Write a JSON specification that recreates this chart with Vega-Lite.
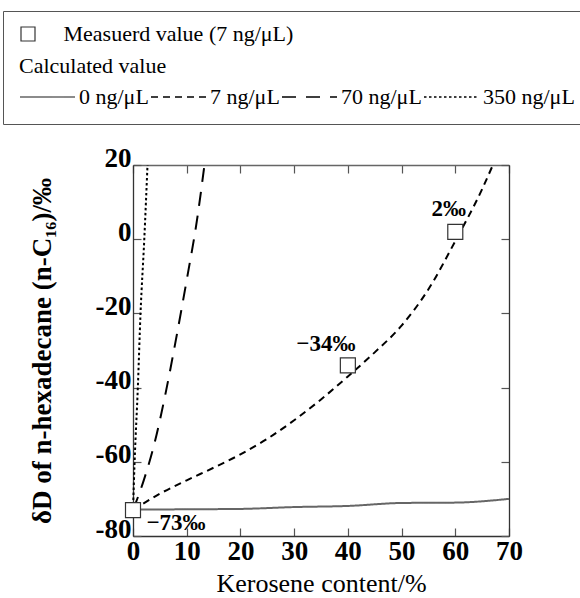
{
  "$schema": "https://vega.github.io/schema/vega-lite/v6.json",
  "width": 376,
  "height": 371,
  "padding": {"left": 2, "top": 10, "right": 0, "bottom": 0},
  "config": {
    "view": {"stroke": null},
    "font": "Liberation Serif",
    "axis": {
      "grid": false,
      "tickSize": -8,
      "tickColor": "#555",
      "tickWidth": 1.2,
      "domainColor": "#333",
      "domainWidth": 1.3,
      "labelFont": "Liberation Serif",
      "labelFontWeight": "bold",
      "labelFontSize": 27,
      "labelColor": "#000",
      "titleFont": "Liberation Serif",
      "titleColor": "#000"
    }
  },
  "datasets": {
    "curves": [
      {"series": "0 ng/μL", "kerosene": 0, "dD": -72.9},
      {"series": "0 ng/μL", "kerosene": 10, "dD": -72.8},
      {"series": "0 ng/μL", "kerosene": 20, "dD": -72.7},
      {"series": "0 ng/μL", "kerosene": 30, "dD": -72.2},
      {"series": "0 ng/μL", "kerosene": 40, "dD": -71.9},
      {"series": "0 ng/μL", "kerosene": 50, "dD": -71.1},
      {"series": "0 ng/μL", "kerosene": 60, "dD": -71.0},
      {"series": "0 ng/μL", "kerosene": 70, "dD": -70.0},
      {"series": "7 ng/μL", "kerosene": 0, "dD": -73},
      {"series": "7 ng/μL", "kerosene": 5, "dD": -68.6},
      {"series": "7 ng/μL", "kerosene": 10, "dD": -65},
      {"series": "7 ng/μL", "kerosene": 15, "dD": -61.6},
      {"series": "7 ng/μL", "kerosene": 20, "dD": -58},
      {"series": "7 ng/μL", "kerosene": 25, "dD": -53.8},
      {"series": "7 ng/μL", "kerosene": 30, "dD": -48.8},
      {"series": "7 ng/μL", "kerosene": 35, "dD": -43.2},
      {"series": "7 ng/μL", "kerosene": 40, "dD": -37},
      {"series": "7 ng/μL", "kerosene": 45, "dD": -30.5},
      {"series": "7 ng/μL", "kerosene": 50, "dD": -23.3},
      {"series": "7 ng/μL", "kerosene": 55, "dD": -13.5},
      {"series": "7 ng/μL", "kerosene": 60, "dD": -0.5},
      {"series": "7 ng/μL", "kerosene": 65, "dD": 13.5},
      {"series": "7 ng/μL", "kerosene": 67, "dD": 20},
      {"series": "70 ng/μL", "kerosene": 0, "dD": -73},
      {"series": "70 ng/μL", "kerosene": 2, "dD": -65},
      {"series": "70 ng/μL", "kerosene": 4, "dD": -55},
      {"series": "70 ng/μL", "kerosene": 6, "dD": -42},
      {"series": "70 ng/μL", "kerosene": 8, "dD": -27},
      {"series": "70 ng/μL", "kerosene": 10, "dD": -11},
      {"series": "70 ng/μL", "kerosene": 12, "dD": 6},
      {"series": "70 ng/μL", "kerosene": 13.3, "dD": 20},
      {"series": "350 ng/μL", "kerosene": 0, "dD": -73},
      {"series": "350 ng/μL", "kerosene": 0.3, "dD": -60},
      {"series": "350 ng/μL", "kerosene": 0.9, "dD": -40},
      {"series": "350 ng/μL", "kerosene": 1.4, "dD": -20},
      {"series": "350 ng/μL", "kerosene": 2.1, "dD": 0},
      {"series": "350 ng/μL", "kerosene": 2.7, "dD": 20}
    ],
    "measured": [
      {"kerosene": 0, "dD": -73},
      {"kerosene": 40, "dD": -34},
      {"kerosene": 60, "dD": 2}
    ],
    "labels": [
      {"kerosene": 8.0, "dD": -78.3, "text": "−73‰"},
      {"kerosene": 35.9, "dD": -30, "text": "−34‰"},
      {"kerosene": 58.8, "dD": 6.3, "text": "2‰"}
    ]
  },
  "layer": [
    {
      "data": {"name": "curves"},
      "mark": {"type": "line", "strokeWidth": 2, "interpolate": "monotone"},
      "encoding": {
        "x": {
          "field": "kerosene", "type": "quantitative",
          "scale": {"domain": [0, 70], "nice": false, "zero": false},
          "axis": {
            "orient": "bottom",
            "title": "Kerosene content/%",
            "titleFontSize": 26,
            "titleFontWeight": "normal",
            "titlePadding": 6,
            "labelPadding": 10,
            "labelFlush": false,
            "values": [0, 10, 20, 30, 40, 50, 60, 70]
          }
        },
        "y": {
          "field": "dD", "type": "quantitative",
          "scale": {"domain": [-80, 20], "nice": false, "zero": false},
          "axis": {
            "orient": "left",
            "title": "δD of n-hexadecane (n-C₁₆)/‰",
            "titleFontSize": 27,
            "titleFontWeight": "bold",
            "titlePadding": 39,
            "labelPadding": 10,
            "labelOffset": -7,
            "labelFlush": false,
            "values": [-80, -60, -40, -20, 0, 20],
            "labelExpr": "replace(datum.label, '−', '-')"
          }
        },
        "color": {
          "field": "series", "type": "nominal",
          "scale": {"domain": ["0 ng/μL", "7 ng/μL", "70 ng/μL", "350 ng/μL"], "range": ["#666", "#000", "#000", "#000"]},
          "legend": {
            "title": [" ", "Calculated value"],
            "orient": "none",
            "legendX": -130,
            "legendY": -154,
            "direction": "horizontal",
            "columns": 4,
            "symbolType": "stroke",
            "symbolSize": 3025,
            "symbolStrokeWidth": 1.5,
            "clipHeight": 22,
            "labelOffset": 3,
            "columnPadding": 1,
            "padding": 16,
            "strokeColor": "#555",
            "titleFont": "Liberation Serif",
            "titleFontSize": 22,
            "titleFontWeight": "normal",
            "titleColor": "#000",
            "titleLineHeight": 29,
            "titlePadding": 8,
            "titleLimit": 400,
            "labelFont": "Liberation Serif",
            "labelFontSize": 22,
            "labelColor": "#000",
            "labelLimit": 200
          }
        },
        "strokeDash": {
          "field": "series", "type": "nominal",
          "scale": {"domain": ["0 ng/μL", "7 ng/μL", "70 ng/μL", "350 ng/μL"], "range": [[1, 0], [7, 5], [14, 10], [2.5, 2.5]]},
          "legend": {
            "title": [" ", "Calculated value"],
            "orient": "none",
            "legendX": -130,
            "legendY": -154,
            "direction": "horizontal",
            "columns": 4,
            "symbolType": "stroke",
            "symbolSize": 3025,
            "symbolStrokeWidth": 1.5,
            "clipHeight": 22,
            "labelOffset": 3,
            "columnPadding": 1,
            "padding": 16,
            "strokeColor": "#555",
            "titleFont": "Liberation Serif",
            "titleFontSize": 22,
            "titleFontWeight": "normal",
            "titleColor": "#000",
            "titleLineHeight": 29,
            "titlePadding": 8,
            "titleLimit": 400,
            "labelFont": "Liberation Serif",
            "labelFontSize": 22,
            "labelColor": "#000",
            "labelLimit": 200
          }
        }
      }
    },
    {
      "data": {"name": "measured"},
      "mark": {"type": "point", "shape": "square", "filled": false, "fill": "#fff", "fillOpacity": 1, "strokeWidth": 1.2, "size": 225, "opacity": 1},
      "encoding": {
        "x": {
          "field": "kerosene", "type": "quantitative",
          "axis": {"orient": "top", "labels": false, "title": null, "values": [0, 10, 20, 30, 40, 50, 60, 70], "domainColor": "#666"}
        },
        "y": {
          "field": "dD", "type": "quantitative",
          "axis": {"orient": "right", "labels": false, "title": null, "values": [-80, -60, -40, -20, 0, 20]}
        },
        "stroke": {
          "datum": "Measuerd value (7 ng/μL)",
          "type": "nominal",
          "scale": {"range": ["#333"]},
          "legend": {
            "title": null,
            "orient": "none",
            "legendX": -116,
            "legendY": -142,
            "symbolType": "square",
            "symbolSize": 196,
            "symbolFillColor": "#fff",
            "symbolStrokeWidth": 1.2,
            "symbolOpacity": 1,
            "labelOffset": 24.5,
            "labelFont": "Liberation Serif",
            "labelFontSize": 22,
            "labelColor": "#000",
            "labelLimit": 400,
            "padding": 0,
            "clipHeight": 22
          }
        }
      }
    },
    {
      "data": {"name": "labels"},
      "mark": {"type": "text", "font": "Liberation Serif", "fontWeight": "bold", "fontSize": 23, "align": "center", "baseline": "alphabetic", "color": "#000"},
      "encoding": {
        "x": {"field": "kerosene", "type": "quantitative", "axis": null},
        "y": {"field": "dD", "type": "quantitative", "axis": null},
        "text": {"field": "text"}
      }
    }
  ],
  "resolve": {"axis": {"x": "independent", "y": "independent"}}
}
